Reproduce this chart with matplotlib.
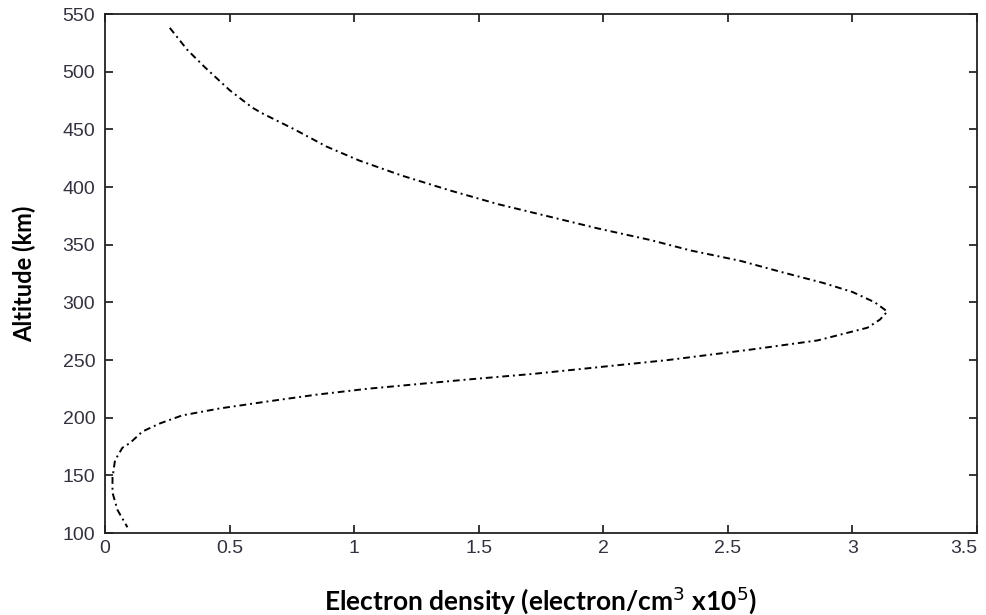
import matplotlib
matplotlib.use('Agg')
import matplotlib.pyplot as plt
from matplotlib.ticker import FuncFormatter

plt.rcParams['font.family'] = 'Liberation Sans'

# electron density profile (x 1e5 electron/cm^3) vs altitude (km)
altitude = [538, 519, 504, 484, 469, 464, 450, 435, 423, 410, 397, 385, 374,
            364, 354, 345, 336, 326, 317, 309, 300, 292, 285, 278, 267, 259,
            250, 244, 238, 233, 225, 220, 214, 208, 202, 195, 188, 178, 174,
            163, 148, 135, 120, 105]
density = [0.26, 0.33, 0.40, 0.50, 0.59, 0.63, 0.76, 0.89, 1.02, 1.19, 1.385, 1.58, 1.79,
           1.98, 2.19, 2.35, 2.55, 2.72, 2.88, 3.00, 3.09, 3.14, 3.11, 3.06, 2.86, 2.59,
           2.26, 1.99, 1.72, 1.45, 1.05, 0.85, 0.65, 0.46, 0.31, 0.22, 0.15, 0.10, 0.07,
           0.04, 0.03, 0.03, 0.05, 0.09]

xticks = [0, 0.5, 1, 1.5, 2, 2.5, 3, 3.5]
yticks = [100, 150, 200, 250, 300, 350, 400, 450, 500, 550]

fig = plt.figure(figsize=(9.87, 6.15), dpi=100)
ax = fig.add_axes([0.1064, 0.1333, 0.8835, 0.8439])

ax.plot(density, altitude, color='black', linewidth=1.4,
        linestyle=(0, (3.5, 2, 1, 2)))

ax.set_xlim(0, 3.5)
ax.set_ylim(100, 550)
ax.set_xticks(xticks)
ax.set_yticks(yticks)
ax.xaxis.set_major_formatter(FuncFormatter(lambda v, p: f'{v:g}'))
ax.tick_params(direction='in', length=6, width=1.1, top=True, right=True,
               labelsize=14, labelcolor='#333340')
ax.tick_params(axis='y', pad=7)
ax.tick_params(axis='x', pad=5)
for sp in ax.spines.values():
    sp.set_linewidth(1.3)
    sp.set_color('#222222')

# keep the last x label inside the figure
fig.canvas.draw()
ax.get_xticklabels()[-1].set_horizontalalignment('right')

ax.set_xlabel('Electron density (electron/cm$^3$ x10$^5$)', fontsize=19,
              fontweight='bold', family='Lato')
ax.set_ylabel('Altitude (km)', fontsize=17, fontweight='bold', family='Lato')
ax.xaxis.set_label_coords(0.5, -0.098)
ax.yaxis.set_label_coords(-0.079, 0.5)

fig.savefig('out.png', dpi=100)
